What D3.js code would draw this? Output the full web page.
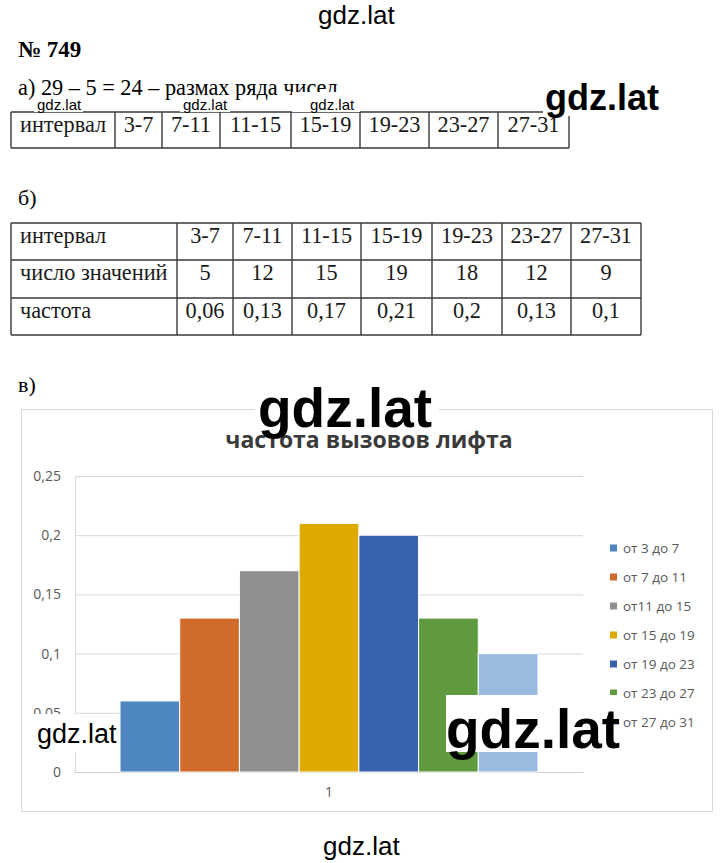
<!DOCTYPE html>
<html><head><meta charset="utf-8">
<script src="https://cdn.jsdelivr.net/npm/d3@7"></script>
<style>body{margin:0;background:#fff}svg{display:block}</style>
</head><body>
<svg id="c" width="720" height="863"></svg>
<script>
// ---------- data ----------
const intervals = ["3-7","7-11","11-15","15-19","19-23","23-27","27-31"];
const counts = [5,12,15,19,18,12,9];
const frequencies = [0.06,0.13,0.17,0.21,0.2,0.13,0.1];
const seriesNames = ["от 3 до 7","от 7 до 11","от11 до 15","от 15 до 19","от 19 до 23","от 23 до 27","от 27 до 31"];
const seriesColors = ["#4e86bf","#d06b2c","#8f8f8f","#e0a900","#3a63ae","#5f9a3f","#9abbe0"];
const yTicks = [0,0.05,0.1,0.15,0.2,0.25];
const xCategories = ["1"];
const chartTitle = "частота вызовов лифта";

const fmt = d => d === 0 ? "0" : String(d).replace(".", ",");
const svg = d3.select("#c");
const serif = "'Liberation Serif','Times New Roman',serif";
const sans = "'Open Sans','Noto Sans',sans-serif";
const wmFont = "'Liberation Sans',Arial,sans-serif";

// ---------- heading texts ----------
svg.append("text").attr("x",18).attr("y",57).attr("font-family",serif).attr("font-weight","bold")
  .attr("font-size",23).text("№ 749");
svg.append("text").attr("x",18).attr("y",95).attr("font-family",serif).attr("font-size",22.3)
  .text("а) 29 – 5 = 24 – размах ряда чисел");
svg.append("text").attr("x",18).attr("y",205).attr("font-family",serif).attr("font-size",22).text("б)");
svg.append("text").attr("x",18).attr("y",392).attr("font-family",serif).attr("font-size",22).text("в)");

// ---------- tables ----------
function drawTable(colX, rowY, rows) {
  const g = svg.append("g");
  const x0 = colX[0], x1 = colX[colX.length-1], y0 = rowY[0], y1 = rowY[rowY.length-1];
  rowY.forEach(y => g.append("line").attr("x1",x0).attr("x2",x1).attr("y1",y).attr("y2",y));
  colX.forEach(x => g.append("line").attr("x1",x).attr("x2",x).attr("y1",y0).attr("y2",y1));
  g.selectAll("line").attr("stroke","#3a3a3a").attr("stroke-width",1.4);
  rows.forEach((row, r) => {
    row.forEach((cell, c) => {
      const t = g.append("text").attr("y", rowY[r] + 20).attr("font-family",serif)
        .attr("font-size",22.3).attr("fill","#1a1a1a").text(cell);
      if (c === 0) t.attr("x", colX[0] + 9);
      else t.attr("x", (colX[c] + colX[c+1]) / 2).attr("text-anchor","middle");
    });
  });
}
drawTable([11,115,162,220,291,360,429,498,569],[112,148],[["интервал", ...intervals]]);
drawTable([11,177,233,292,361,432,502,571,641],[223,260,298,335],[
  ["интервал", ...intervals],
  ["число значений", ...counts.map(String)],
  ["частота", ...frequencies.map(fmt)]
]);

// ---------- chart ----------
svg.append("rect").attr("x",21.5).attr("y",409.5).attr("width",691).attr("height",402)
  .attr("fill","#fff").attr("stroke","#d9d9d9");

const plot = {l:75, r:583, t:476, b:772};
const y = d3.scaleLinear().domain([0,0.25]).range([plot.b, plot.t]);
const x0 = d3.scaleBand().domain(xCategories).range([plot.l, plot.r]).paddingInner(0).paddingOuter(0.1077);
const x1 = d3.scaleBand().domain(seriesNames).range([0, x0.bandwidth()]);
const color = d3.scaleOrdinal().domain(seriesNames).range(seriesColors);

const yAxis = svg.append("g").attr("transform",`translate(${plot.l},0)`)
  .call(d3.axisLeft(y).tickValues(yTicks).tickFormat(fmt).tickSize(-(plot.r-plot.l)).tickSizeOuter(0).tickPadding(14));
yAxis.selectAll("line,path").attr("stroke","#d9d9d9");
yAxis.selectAll("text").attr("font-family",sans).attr("font-size",14).attr("fill","#595959");

const xAxis = svg.append("g").attr("transform",`translate(0,${plot.b})`)
  .call(d3.axisBottom(x0).tickSize(0).tickSizeOuter(0).tickPadding(15));
xAxis.select("path").attr("stroke","#cfcfcf");
xAxis.selectAll("text").attr("font-family",sans).attr("font-size",14).attr("fill","#595959");

const bars = svg.append("g");
xCategories.forEach(cat => {
  bars.selectAll(null).data(frequencies).join("rect")
    .attr("x",(d,i) => x0(cat) + x1(seriesNames[i]))
    .attr("y", d => y(d))
    .attr("width", x1.bandwidth())
    .attr("height", d => y(0) - y(d))
    .attr("fill",(d,i) => color(seriesNames[i]))
    .attr("stroke","#fff").attr("stroke-width",1);
});

svg.append("text").attr("x",369).attr("y",448).attr("text-anchor","middle")
  .attr("font-family",sans).attr("font-weight","bold").attr("font-size",23).attr("fill","#3a3a3a")
  .text(chartTitle);

const legend = svg.append("g");
seriesNames.forEach((s,i) => {
  const cy = 548 + i*29;
  legend.append("rect").attr("x",610).attr("y",cy-3.5).attr("width",7).attr("height",7).attr("fill",color(s));
  legend.append("text").attr("x",623).attr("y",cy).attr("dy","0.35em").attr("font-family",sans)
    .attr("font-size",13.5).attr("fill","#595959").text(s);
});

// ---------- watermarks ----------
function wm(x, baseline, size, bold, rect) {
  if (rect) svg.append("rect").attr("x",rect[0]).attr("y",rect[1]).attr("width",rect[2]).attr("height",rect[3]).attr("fill","#fff");
  svg.append("text").attr("x",x).attr("y",baseline).attr("font-family",wmFont)
    .attr("font-weight",bold?"bold":"normal").attr("font-size",size).attr("fill","#000").text("gdz.lat");
}
wm(318,24,26,false,null);
wm(323,855,26,false,null);
wm(37,110,15,false,[34,96,49,16]);
wm(183,110,15,false,[180,96,50,16]);
wm(310,110,15,false,[292,92,68,20]);
wm(545,110,36,true,[543,80,124,36]);
wm(258,427,55,true,[255,389,184,40]);
wm(37,743,27,false,[30,714,89,38]);
wm(446,748,55,true,[446,695,177,57]);
</script>
</body></html>
